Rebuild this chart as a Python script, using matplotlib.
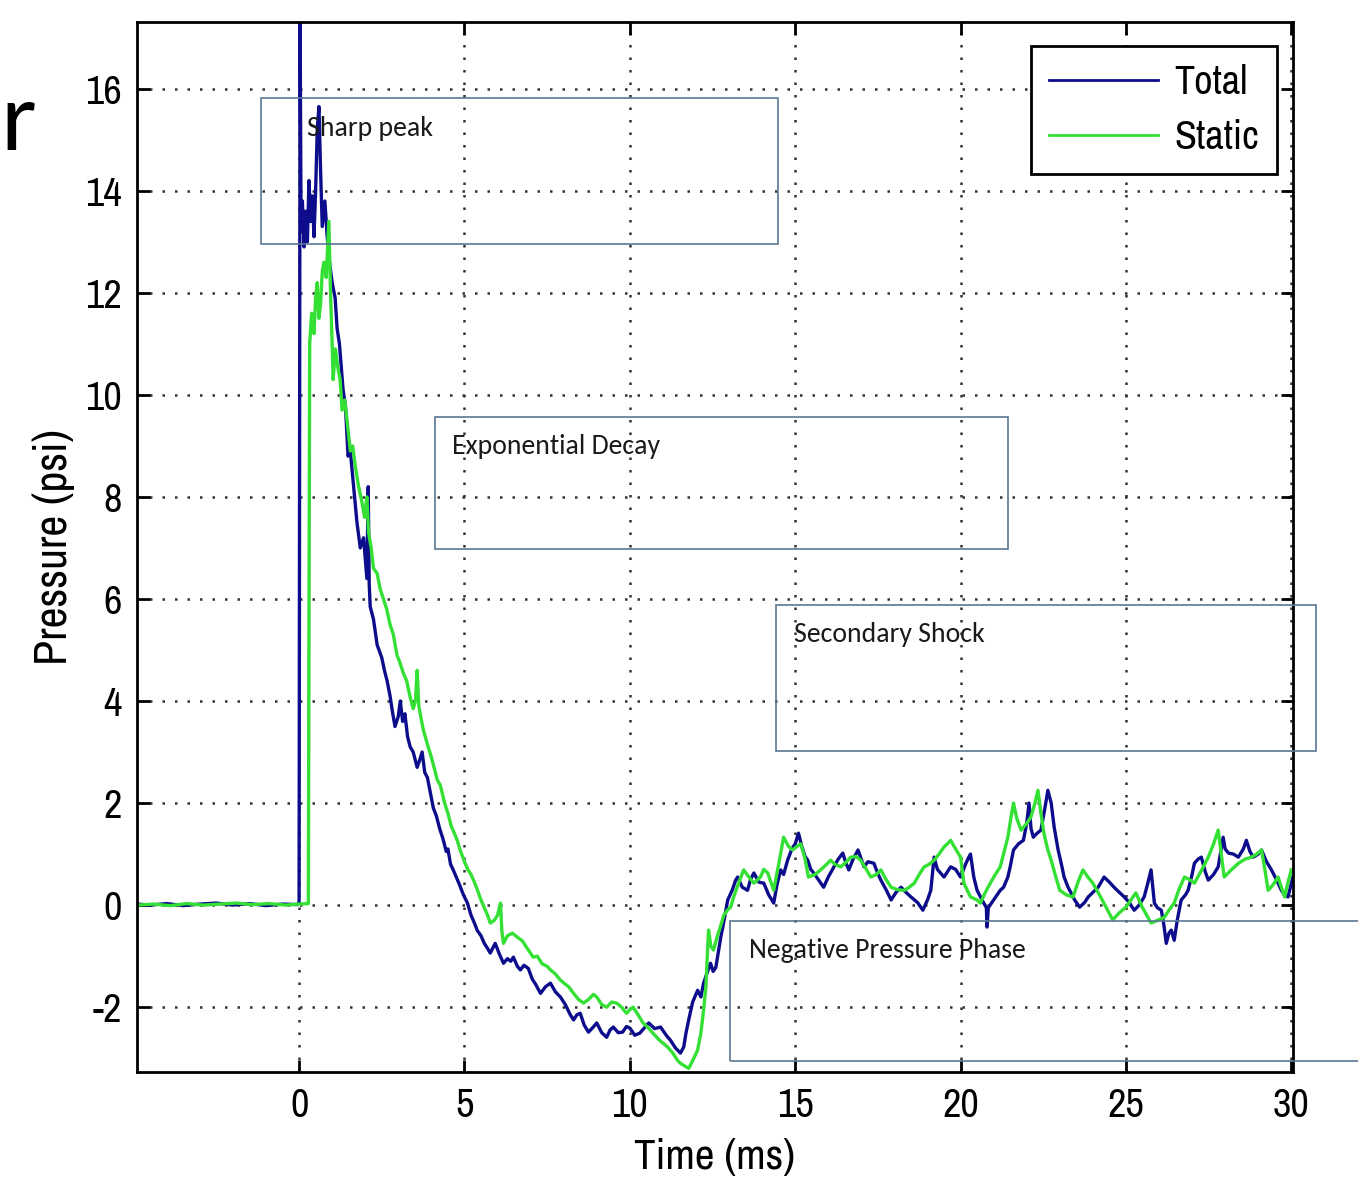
import matplotlib
matplotlib.use("Agg")
import matplotlib.pyplot as plt
from matplotlib.patches import Rectangle

# blast pressure traces (time in ms, pressure in psi)
total = [
    (-4.9, 0.02), (-4.5, 0.0), (-4.0, 0.03), (-3.5, -0.01), (-3.0, 0.02), (-2.5, 0.04),
    (-2.0, 0.0), (-1.5, 0.03), (-1.0, -0.01), (-0.5, 0.02), (-0.05, 0.01), (0.0, 0.05),
    (0.03, 17.5), (0.06, 13.2), (0.10, 13.8), (0.15, 12.9), (0.20, 13.6), (0.25, 13.0),
    (0.30, 14.2), (0.35, 13.4), (0.40, 13.9), (0.45, 13.1), (0.50, 14.0), (0.55, 15.2),
    (0.60, 15.65), (0.65, 14.4), (0.70, 13.3), (0.78, 13.8), (0.85, 13.1), (0.92, 12.6),
    (1.00, 12.2), (1.09, 11.9), (1.15, 11.3), (1.22, 11.0), (1.33, 10.1), (1.40, 9.8),
    (1.48, 8.8), (1.55, 8.9), (1.62, 8.4), (1.75, 7.5), (1.85, 7.0), (1.95, 7.2),
    (2.05, 6.4), (2.09, 8.2), (2.12, 6.3), (2.15, 5.85), (2.25, 5.6), (2.36, 5.1),
    (2.50, 4.85), (2.58, 4.6), (2.66, 4.4), (2.75, 4.1), (2.82, 3.8), (2.90, 3.5),
    (3.00, 3.7), (3.06, 4.0), (3.13, 3.6), (3.20, 3.75), (3.28, 3.3), (3.36, 3.1),
    (3.45, 3.0), (3.57, 2.7), (3.65, 2.85), (3.72, 3.0), (3.80, 2.6), (3.88, 2.5),
    (3.97, 2.2), (4.06, 1.9), (4.15, 1.75), (4.25, 1.5), (4.35, 1.3), (4.45, 1.05),
    (4.50, 1.1), (4.58, 0.8), (4.66, 0.69), (4.75, 0.55), (4.85, 0.4), (4.97, 0.2),
    (5.09, 0.04), (5.20, -0.2), (5.30, -0.35), (5.39, -0.5), (5.50, -0.6), (5.60, -0.75),
    (5.70, -0.85), (5.78, -0.94), (5.85, -0.85), (5.93, -0.75), (6.05, -0.95), (6.18, -1.14),
    (6.30, -1.05), (6.40, -1.1), (6.48, -1.02), (6.60, -1.2), (6.69, -1.27), (6.80, -1.18),
    (6.93, -1.24), (7.05, -1.45), (7.15, -1.55), (7.30, -1.73), (7.45, -1.6), (7.60, -1.53),
    (7.75, -1.7), (7.90, -1.8), (8.05, -1.95), (8.20, -2.15), (8.30, -2.25), (8.40, -2.15),
    (8.50, -2.12), (8.62, -2.35), (8.75, -2.49), (8.88, -2.4), (9.00, -2.31), (9.15, -2.5),
    (9.30, -2.59), (9.40, -2.45), (9.50, -2.39), (9.65, -2.5), (9.78, -2.49), (9.90, -2.38),
    (10.00, -2.41), (10.15, -2.55), (10.30, -2.51), (10.45, -2.4), (10.57, -2.31), (10.75, -2.42),
    (10.93, -2.39), (11.10, -2.55), (11.23, -2.65), (11.38, -2.8), (11.53, -2.9), (11.63, -2.78),
    (11.70, -2.5), (11.78, -2.25), (11.90, -1.9), (12.05, -1.67), (12.15, -1.8), (12.23, -1.53),
    (12.35, -1.3), (12.44, -1.14), (12.52, -1.3), (12.60, -1.22), (12.68, -0.9), (12.75, -0.63),
    (12.85, -0.3), (12.96, 0.1), (13.10, 0.3), (13.20, 0.49), (13.26, 0.55), (13.40, 0.35),
    (13.56, 0.29), (13.65, 0.5), (13.75, 0.63), (13.90, 0.45), (14.05, 0.43), (14.20, 0.2),
    (14.35, 0.04), (14.45, 0.4), (14.56, 0.69), (14.65, 0.6), (14.77, 0.88), (14.90, 1.1),
    (15.00, 1.2), (15.10, 1.41), (15.20, 1.15), (15.30, 0.95), (15.38, 0.88), (15.47, 0.7),
    (15.56, 0.63), (15.70, 0.5), (15.86, 0.35), (16.00, 0.55), (16.17, 0.75), (16.30, 0.9),
    (16.44, 1.02), (16.52, 0.85), (16.62, 0.69), (16.75, 0.9), (16.90, 1.08), (17.00, 0.9),
    (17.08, 0.75), (17.20, 0.85), (17.38, 0.82), (17.48, 0.65), (17.59, 0.49), (17.75, 0.3),
    (17.90, 0.1), (18.05, 0.25), (18.20, 0.35), (18.35, 0.25), (18.50, 0.16), (18.70, 0.05),
    (18.86, -0.1), (19.00, 0.1), (19.10, 0.29), (19.20, 0.94), (19.30, 0.7), (19.50, 0.55),
    (19.60, 0.65), (19.70, 0.75), (19.85, 0.7), (20.00, 0.55), (20.15, 0.8), (20.25, 0.94),
    (20.30, 1.0), (20.40, 0.55), (20.50, 0.29), (20.65, 0.1), (20.78, -0.05), (20.80, -0.43),
    (20.84, -0.05), (21.00, 0.1), (21.20, 0.29), (21.30, 0.35), (21.43, 0.55), (21.50, 0.75),
    (21.60, 1.08), (21.75, 1.2), (21.90, 1.27), (22.00, 1.6), (22.07, 2.0), (22.13, 1.5),
    (22.20, 1.33), (22.30, 1.4), (22.43, 1.47), (22.55, 1.9), (22.64, 2.25), (22.74, 2.0),
    (22.83, 1.53), (22.95, 1.08), (23.05, 0.8), (23.13, 0.55), (23.25, 0.35), (23.34, 0.24),
    (23.45, 0.1), (23.60, -0.04), (23.75, 0.05), (23.86, 0.16), (24.00, 0.25), (24.16, 0.35),
    (24.25, 0.45), (24.34, 0.55), (24.50, 0.45), (24.64, 0.35), (24.80, 0.25), (24.95, 0.16),
    (25.10, 0.05), (25.25, -0.1), (25.40, 0.0), (25.55, 0.16), (25.65, 0.4), (25.76, 0.69),
    (25.86, 0.04), (25.95, -0.05), (26.07, -0.1), (26.15, -0.4), (26.22, -0.75), (26.30, -0.55),
    (26.37, -0.49), (26.46, -0.69), (26.55, -0.3), (26.67, 0.1), (26.80, 0.2), (26.88, 0.29),
    (27.00, 0.6), (27.07, 0.82), (27.18, 0.9), (27.28, 0.94), (27.40, 0.65), (27.49, 0.49),
    (27.65, 0.6), (27.79, 0.75), (27.94, 1.33), (28.00, 1.1), (28.10, 1.02), (28.25, 1.0),
    (28.40, 0.94), (28.55, 1.1), (28.64, 1.27), (28.75, 1.05), (28.85, 0.94), (29.00, 1.0),
    (29.10, 1.08), (29.25, 0.85), (29.40, 0.69), (29.55, 0.5), (29.70, 0.29), (29.80, 0.2),
    (29.90, 0.16), (30.05, 0.55),
]

static = [
    (-4.9, 0.0), (-4.4, 0.02), (-3.9, -0.01), (-3.4, 0.03), (-2.9, 0.0), (-2.4, 0.02),
    (-1.9, 0.04), (-1.4, 0.01), (-0.9, 0.03), (-0.4, 0.0), (0.0, 0.02), (0.28, 0.03),
    (0.32, 11.0), (0.38, 11.6), (0.45, 11.2), (0.50, 11.9), (0.55, 12.2), (0.60, 11.5),
    (0.65, 11.8), (0.70, 12.4), (0.75, 12.6), (0.82, 12.3), (0.90, 13.4), (0.95, 12.0),
    (1.00, 11.0), (1.03, 10.3), (1.10, 10.9), (1.18, 10.5), (1.24, 10.3), (1.30, 9.7),
    (1.38, 9.9), (1.45, 9.5), (1.55, 8.9), (1.62, 9.0), (1.70, 8.6), (1.80, 8.2),
    (1.90, 7.9), (1.98, 7.6), (2.05, 8.0), (2.10, 7.3), (2.18, 7.0), (2.25, 6.6),
    (2.36, 6.5), (2.45, 6.2), (2.55, 6.0), (2.65, 5.8), (2.75, 5.5), (2.85, 5.3),
    (2.96, 4.9), (3.05, 4.75), (3.15, 4.55), (3.25, 4.4), (3.35, 4.1), (3.45, 3.85),
    (3.52, 4.0), (3.57, 4.6), (3.62, 3.9), (3.75, 3.45), (3.88, 3.15), (4.00, 2.9),
    (4.10, 2.65), (4.18, 2.45), (4.27, 2.35), (4.40, 2.0), (4.50, 1.8), (4.60, 1.55),
    (4.70, 1.4), (4.78, 1.27), (4.87, 1.08), (5.00, 0.85), (5.10, 0.7), (5.20, 0.6),
    (5.30, 0.45), (5.39, 0.3), (5.50, 0.1), (5.60, -0.05), (5.70, -0.2), (5.78, -0.35),
    (5.90, -0.3), (6.00, -0.2), (6.09, 0.04), (6.13, -0.5), (6.18, -0.75), (6.30, -0.6),
    (6.45, -0.55), (6.60, -0.63), (6.75, -0.7), (6.90, -0.85), (7.08, -1.02), (7.20, -1.0),
    (7.35, -1.15), (7.50, -1.2), (7.60, -1.27), (7.75, -1.35), (7.90, -1.47), (8.05, -1.55),
    (8.15, -1.6), (8.30, -1.73), (8.45, -1.85), (8.60, -1.92), (8.75, -1.85), (8.90, -1.75),
    (9.00, -1.8), (9.15, -1.95), (9.30, -2.0), (9.45, -1.9), (9.60, -1.92), (9.75, -2.0),
    (9.90, -2.12), (10.00, -2.05), (10.10, -2.0), (10.25, -2.15), (10.40, -2.31), (10.55, -2.4),
    (10.70, -2.51), (10.90, -2.65), (11.14, -2.78), (11.30, -2.9), (11.45, -3.05), (11.53, -3.1),
    (11.65, -3.15), (11.78, -3.2), (11.90, -3.05), (12.05, -2.84), (12.15, -2.5), (12.23, -2.06),
    (12.30, -1.6), (12.38, -0.49), (12.45, -0.8), (12.53, -0.88), (12.65, -0.6), (12.75, -0.4),
    (12.84, -0.2), (12.95, -0.1), (13.05, -0.04), (13.14, 0.16), (13.30, 0.45), (13.44, 0.69),
    (13.60, 0.55), (13.75, 0.43), (13.95, 0.55), (14.05, 0.7), (14.17, 0.63), (14.35, 0.29),
    (14.50, 0.8), (14.65, 1.33), (14.80, 1.15), (14.92, 1.08), (15.05, 1.15), (15.17, 1.2),
    (15.30, 0.9), (15.40, 0.55), (15.60, 0.6), (15.77, 0.69), (15.95, 0.8), (16.07, 0.88),
    (16.20, 0.8), (16.38, 0.75), (16.55, 0.85), (16.68, 0.94), (16.85, 0.95), (16.98, 0.88),
    (17.15, 0.7), (17.29, 0.55), (17.45, 0.6), (17.59, 0.69), (17.75, 0.5), (17.90, 0.35),
    (18.10, 0.3), (18.30, 0.29), (18.45, 0.35), (18.60, 0.43), (18.75, 0.6), (18.90, 0.75),
    (19.05, 0.8), (19.20, 0.88), (19.35, 1.0), (19.50, 1.14), (19.60, 1.2), (19.70, 1.27),
    (19.85, 1.1), (20.00, 0.94), (20.10, 0.43), (20.30, 0.16), (20.50, 0.1), (20.60, 0.04),
    (20.75, 0.25), (20.90, 0.43), (21.05, 0.6), (21.20, 0.75), (21.30, 1.0), (21.43, 1.33),
    (21.52, 1.7), (21.60, 2.0), (21.70, 1.7), (21.83, 1.47), (22.00, 1.6), (22.13, 1.73),
    (22.25, 2.0), (22.34, 2.25), (22.43, 1.8), (22.52, 1.41), (22.63, 1.1), (22.74, 0.88),
    (22.88, 0.55), (23.00, 0.29), (23.20, 0.2), (23.40, 0.16), (23.55, 0.45), (23.70, 0.69),
    (23.85, 0.55), (24.00, 0.43), (24.20, 0.2), (24.40, -0.04), (24.60, -0.29), (24.80, -0.15),
    (25.00, -0.04), (25.15, 0.1), (25.30, 0.24), (25.50, -0.05), (25.76, -0.35), (25.95, -0.3),
    (26.16, -0.24), (26.30, -0.1), (26.46, 0.04), (26.60, 0.3), (26.77, 0.55), (26.92, 0.5),
    (27.07, 0.43), (27.30, 0.7), (27.49, 0.94), (27.65, 1.2), (27.79, 1.47), (27.90, 0.9),
    (27.97, 0.55), (28.20, 0.7), (28.40, 0.82), (28.60, 0.9), (28.80, 0.94), (28.95, 1.0),
    (29.10, 1.08), (29.20, 0.7), (29.30, 0.29), (29.45, 0.4), (29.60, 0.55), (29.70, 0.35),
    (29.80, 0.16), (29.90, 0.45), (30.00, 0.69),
]

x_ticks = [0, 5, 10, 15, 20, 25, 30]
y_ticks = [-2, 0, 2, 4, 6, 8, 10, 12, 14, 16]

# phase annotations: label, box (t0, t1, p0, p1), text anchor (t, p)
phases = [
    ("Sharp peak", (-1.15, 14.47, 12.96, 15.82), (0.25, 15.22)),
    ("Exponential Decay", (4.12, 21.43, 6.98, 9.57), (4.63, 8.98)),
    ("Secondary Shock", (14.41, 30.76, 3.02, 5.88), (14.96, 5.3)),
    ("Negative Pressure Phase", (13.02, 32.1, -3.06, -0.31), (13.59, -0.88)),
]

narrow = dict(family=["Archivo Narrow", "DejaVu Sans"], stretch="condensed")
note_font = ["Carlito", "Lato"]

fig = plt.figure(figsize=(13.58, 11.90), dpi=100)
ax = fig.add_axes([0.1009, 0.0992, 0.8512, 0.8824])

t_tot, p_tot = zip(*total)
t_sta, p_sta = zip(*static)
ax.plot(t_tot, p_tot, color="#0c0c8c", lw=2.4, label="Total")
ax.plot(t_sta, p_sta, color="#33e033", lw=2.4, label="Static")

ax.set_xlim(-4.9, 30.05)
ax.set_ylim(-3.27, 17.31)
ax.set_xticks(x_ticks)
ax.set_yticks(y_ticks)
ax.set_xticklabels([str(v) for v in x_ticks], fontsize=29, **narrow)
ax.set_yticklabels([str(v) for v in y_ticks], fontsize=29, **narrow)
ax.tick_params(direction="in", length=9, width=2, top=True, right=True, pad=11)
ax.grid(True, color="#333333", linestyle=(0, (1, 4)), linewidth=1.8)
for s in ax.spines.values():
    s.set_linewidth(2)

ax.set_xlabel("Time (ms)", fontsize=31, labelpad=10, **narrow)
ax.set_ylabel("Pressure (psi)", fontsize=33, labelpad=7, **narrow)

for label, (t0, t1, p0, p1), (tx, ty) in phases:
    ax.add_patch(Rectangle((t0, p0), t1 - t0, p1 - p0, fill=False,
                           edgecolor="#5a7894", lw=1.2, clip_on=False, zorder=5))
    ax.text(tx, ty, label, family=note_font, fontsize=20, color="#1a1a1a",
            va="center", ha="left", zorder=6)

leg = ax.legend(loc="upper right", bbox_to_anchor=(0.986, 0.977), borderaxespad=0,
                prop=dict(size=29, **narrow), fancybox=False, framealpha=1,
                edgecolor="black", handlelength=2.7, handletextpad=0.4,
                labelspacing=0.45, borderpad=0.45)
leg.get_frame().set_linewidth(2)
for h in leg.get_lines():
    h.set_linewidth(2)

# stray glyph at the left edge of the slide
fig.text(0.0, 1 - 150 / 1190, "r", family="Lato", fontweight="normal", fontsize=68,
         va="baseline", ha="left")

fig.savefig("out.png", dpi=100, facecolor="white")
